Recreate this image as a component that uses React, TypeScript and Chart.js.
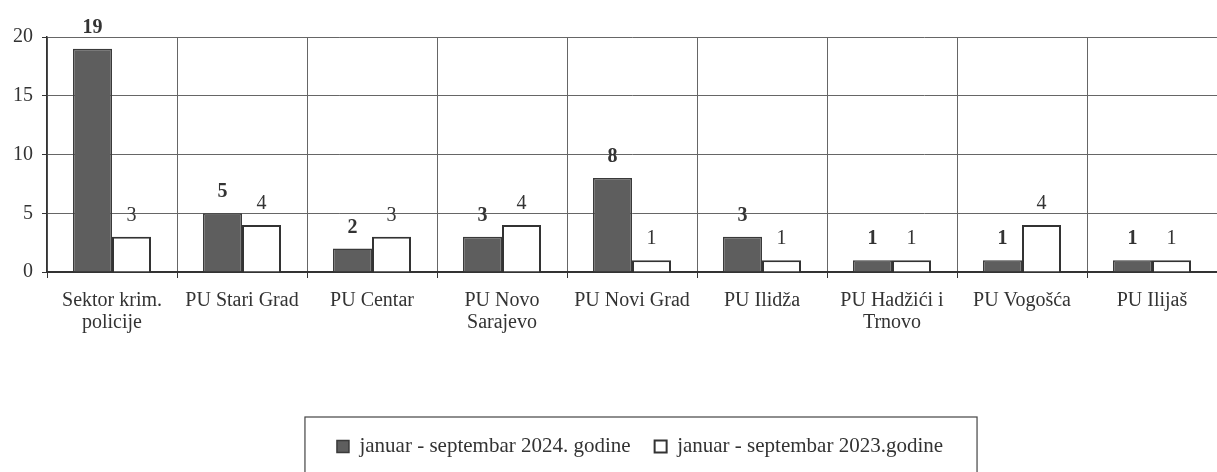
import React, { useEffect, useRef } from "react";
import { Chart, registerables } from "chart.js";

Chart.register(...registerables);

const categories: (string | string[])[] = [
  ["Sektor krim.", "policije"],
  "PU Stari Grad",
  "PU Centar",
  ["PU Novo", "Sarajevo"],
  "PU Novi Grad",
  "PU Ilidža",
  ["PU Hadžići i", "Trnovo"],
  "PU Vogošća",
  "PU Ilijaš",
];
const series2024 = [19, 5, 2, 3, 8, 3, 1, 1, 1];
const series2023 = [3, 4, 3, 4, 1, 1, 1, 4, 1];
const seriesNames = ["januar - septembar 2024. godine", "januar - septembar 2023.godine"];
const yTicks = [0, 5, 10, 15, 20];

const FONT = "'Liberation Serif', 'DejaVu Serif', serif";

const valueLabels = {
  id: "valueLabels",
  afterDatasetsDraw(chart: any) {
    const ctx = chart.ctx;
    ctx.save();
    ctx.fillStyle = "#333";
    ctx.textAlign = "center";
    ctx.textBaseline = "alphabetic";
    chart.data.datasets.forEach((ds: any, i: number) => {
      const meta = chart.getDatasetMeta(i);
      ctx.font = (i === 0 ? "bold " : "") + "20px " + FONT;
      meta.data.forEach((bar: any, j: number) => {
        ctx.fillText(String(ds.data[j]), bar.x, bar.y - 16);
      });
    });
    ctx.restore();
  },
};

const LEGEND_SHIFT = 8;

const legendBox = {
  id: "legendBox",
  afterLayout(chart: any) {
    const lg = chart.legend;
    if (!lg) return;
    lg.left += LEGEND_SHIFT;
    lg.right += LEGEND_SHIFT;
    (lg.legendHitBoxes || []).forEach((h: any) => {
      h.left += LEGEND_SHIFT;
    });
  },
  afterDraw(chart: any) {
    const lg = chart.legend;
    if (!lg || !lg.legendHitBoxes || !lg.legendHitBoxes.length) return;
    const hb = lg.legendHitBoxes;
    const left = hb[0].left - 32;
    const last = hb[hb.length - 1];
    const right = last.left + last.width + 34;
    const top = lg.top + 5;
    const ctx = chart.ctx;
    ctx.save();
    ctx.strokeStyle = "#444";
    ctx.lineWidth = 1.2;
    ctx.strokeRect(left, top, right - left, chart.height - top + 10);
    ctx.restore();
  },
};

export default function App() {
  const ref = useRef<HTMLCanvasElement | null>(null);
  useEffect(() => {
    document.body.style.margin = "0";
    const chart = new Chart(ref.current as HTMLCanvasElement, {
      type: "bar",
      data: {
        labels: categories,
        datasets: [
          {
            label: seriesNames[0],
            data: series2024,
            backgroundColor: "#5e5e5e",
            borderColor: "#3a3a3a",
            borderWidth: 1.5,
            categoryPercentage: 0.6,
            barPercentage: 1,
          },
          {
            label: seriesNames[1],
            data: series2023,
            backgroundColor: "#ffffff",
            borderColor: "#333",
            borderWidth: 2,
            categoryPercentage: 0.6,
            barPercentage: 1,
          },
        ],
      },
      options: {
        responsive: false,
        animation: false,
        layout: { padding: { top: 37, right: 0, left: 0, bottom: 5 } },
        plugins: {
          tooltip: { enabled: false },
          legend: {
            position: "bottom",
            fullSize: false,
            labels: {
              boxWidth: 12,
              boxHeight: 12,
              padding: 24,
              color: "#333",
              font: { family: FONT, size: 21 },
            },
          },
        },
        scales: {
          x: {
            grid: { color: "#666", lineWidth: 1, tickLength: 6, offset: true, tickColor: "#333" },
            border: { color: "#333", width: 2 },
            ticks: {
              color: "#333",
              padding: 12,
              maxRotation: 0,
              autoSkip: false,
              font: { family: FONT, size: 20, lineHeight: 1.1 },
            },
            afterFit: (s: any) => {
              s.height = 140;
            },
          },
          y: {
            min: 0,
            max: 20,
            afterBuildTicks: (s: any) => {
              s.ticks = yTicks.map((v) => ({ value: v }));
            },
            grid: { color: "#666", lineWidth: 1, tickLength: 5, tickColor: "#333" },
            border: { color: "#333", width: 1.5 },
            ticks: {
              color: "#333",
              padding: 9,
              font: { family: FONT, size: 20 },
            },
            afterFit: (s: any) => {
              s.width = 47;
            },
          },
        },
      },
      plugins: [valueLabels, legendBox],
    });
    return () => chart.destroy();
  }, []);
  return <canvas ref={ref} width={1217} height={472} style={{ display: "block" }} />;
}
